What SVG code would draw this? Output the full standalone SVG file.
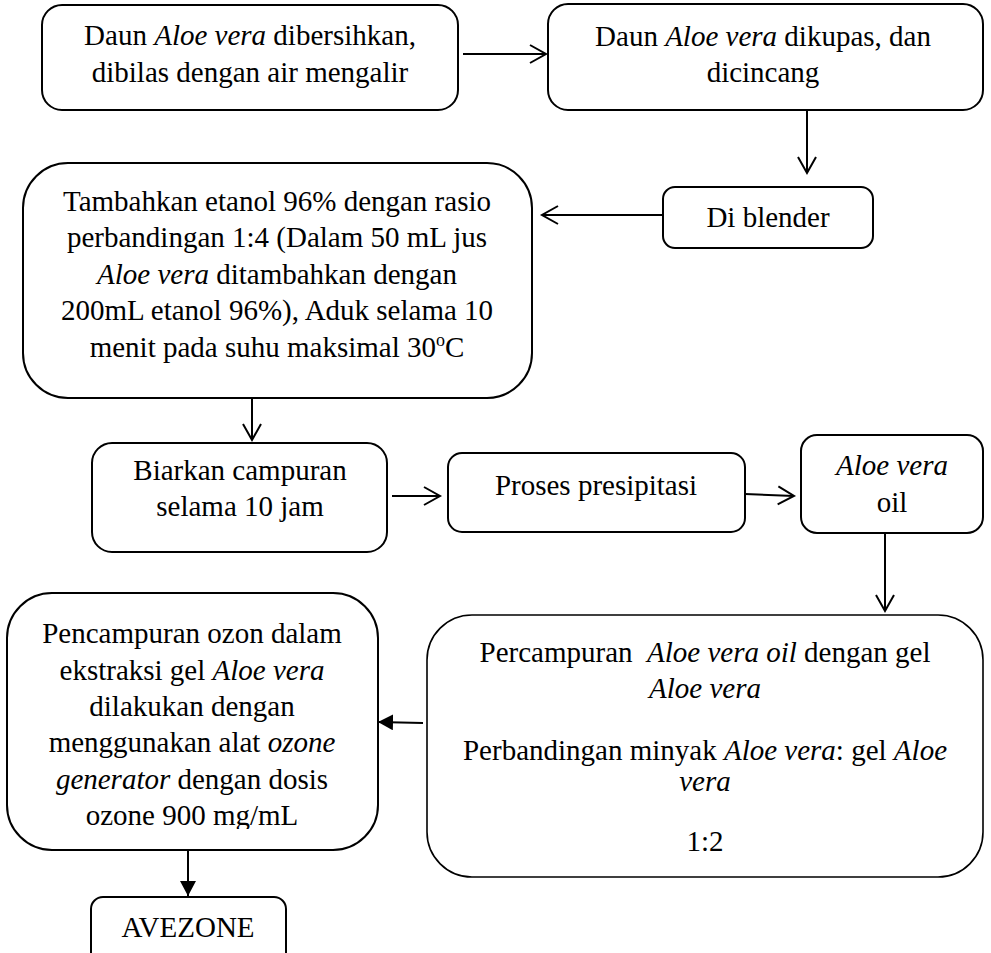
<svg xmlns="http://www.w3.org/2000/svg" width="991" height="953" viewBox="0 0 991 953">
<style>
.box{fill:#fff;stroke:#000;stroke-width:2}
.thin{stroke-width:1.6}
text{font-family:"Liberation Serif","Times New Roman",serif;font-size:29px;fill:#000;text-anchor:middle}
.i{font-style:italic}
.con{stroke:#000;stroke-width:2;fill:none}
</style>
<defs>
<marker id="open" markerUnits="userSpaceOnUse" markerWidth="22" markerHeight="22" viewBox="0 0 22 22" refX="19" refY="11" orient="auto">
<path d="M3,2 L19,11 L3,20" fill="none" stroke="#000" stroke-width="2"/>
</marker>
<marker id="solid" markerUnits="userSpaceOnUse" markerWidth="16" markerHeight="16" viewBox="0 0 16 16" refX="15" refY="8" orient="auto">
<path d="M0,0 L15,8 L0,16 Z" fill="#000"/>
</marker>
<clipPath id="cut"><rect x="0" y="590" width="400" height="239"/></clipPath>
</defs>
<rect width="991" height="953" fill="#fff"/>
<g id="connectors">
<line class="con" x1="463" y1="54" x2="546" y2="54" marker-end="url(#open)"/>
<line class="con" x1="807" y1="110" x2="807" y2="173" marker-end="url(#open)"/>
<line class="con" x1="663" y1="215" x2="542" y2="215" marker-end="url(#open)"/>
<line class="con" x1="252" y1="398" x2="252" y2="440" marker-end="url(#open)"/>
<line class="con" x1="392" y1="496" x2="440" y2="496" marker-end="url(#open)"/>
<line class="con" x1="745" y1="494" x2="794" y2="496" marker-end="url(#open)"/>
<line class="con" x1="885" y1="533" x2="885" y2="611" marker-end="url(#open)"/>
<line class="con" x1="423" y1="723" x2="378" y2="722" marker-end="url(#solid)"/>
<line class="con" x1="188" y1="850" x2="188" y2="896" marker-end="url(#solid)"/>
</g>
<g id="n1">
<rect class="box" x="42" y="5" width="416" height="105" rx="20"/>
<text x="250" y="45">Daun <tspan class="i">Aloe vera</tspan> dibersihkan,</text>
<text x="250" y="82">dibilas dengan air mengalir</text>
</g>
<g id="n2">
<rect class="box" x="548" y="4" width="435" height="106" rx="20"/>
<text x="763" y="46">Daun <tspan class="i">Aloe vera</tspan> dikupas, dan</text>
<text x="763" y="82">dicincang</text>
</g>
<g id="n3">
<rect class="box" x="663" y="187" width="210" height="61" rx="12"/>
<text x="768" y="227">Di blender</text>
</g>
<g id="n4">
<rect class="box" x="23" y="163" width="509" height="235" rx="45"/>
<text x="277" y="211">Tambahkan etanol 96% dengan rasio</text>
<text x="277" y="247">perbandingan 1:4 (Dalam 50 mL jus</text>
<text x="277" y="284"><tspan class="i">Aloe vera</tspan> ditambahkan dengan</text>
<text x="277" y="320">200mL etanol 96%), Aduk selama 10</text>
<text x="277" y="357">menit pada suhu maksimal 30<tspan font-size="18" dy="-11">o</tspan><tspan dy="11">C</tspan></text>
</g>
<g id="n5">
<rect class="box" x="92" y="443" width="295" height="109" rx="20"/>
<text x="240" y="480">Biarkan campuran</text>
<text x="240" y="516">selama 10 jam</text>
</g>
<g id="n6">
<rect class="box" x="448" y="453" width="297" height="79" rx="14"/>
<text x="596" y="495">Proses presipitasi</text>
</g>
<g id="n7">
<rect class="box" x="801" y="435" width="182" height="98" rx="16"/>
<text x="892" y="475" class="i">Aloe vera</text>
<text x="892" y="512">oil</text>
</g>
<g id="n8">
<rect class="box thin" x="427" y="615" width="556" height="262" rx="45"/>
<text x="705" y="662" xml:space="preserve">Percampuran  <tspan class="i">Aloe vera oil</tspan> dengan gel</text>
<text x="705" y="698" class="i">Aloe vera</text>
<text x="705" y="760">Perbandingan minyak <tspan class="i">Aloe vera</tspan>: gel <tspan class="i">Aloe</tspan></text>
<text x="705" y="791" class="i">vera</text>
<text x="705" y="851">1:2</text>
</g>
<g id="n9">
<rect class="box" x="7" y="593" width="371" height="257" rx="45"/>
<text x="192" y="643">Pencampuran ozon dalam</text>
<text x="192" y="680">ekstraksi gel <tspan class="i">Aloe vera</tspan></text>
<text x="192" y="716">dilakukan dengan</text>
<text x="192" y="752">menggunakan alat <tspan class="i">ozone</tspan></text>
<text x="192" y="789"><tspan class="i">generator</tspan> dengan dosis</text>
<text x="192" y="825" clip-path="url(#cut)">ozone 900 mg/mL</text>
</g>
<g id="n10">
<rect class="box" x="91" y="897" width="195" height="70" rx="12"/>
<text x="188" y="937">AVEZONE</text>
</g>
</svg>
